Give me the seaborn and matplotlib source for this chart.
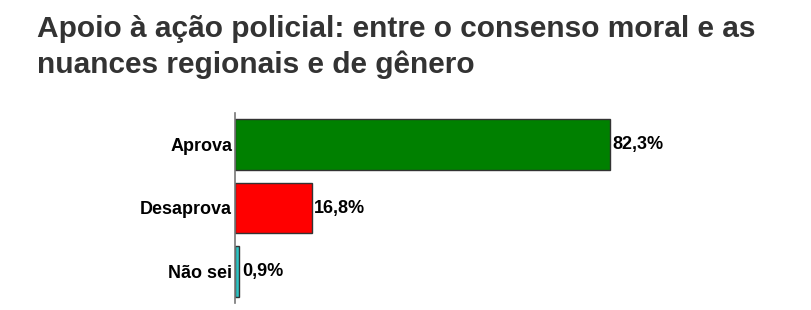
import matplotlib
matplotlib.use("Agg")
import matplotlib.pyplot as plt
import seaborn as sns
import pandas as pd

categories = ["Aprova", "Desaprova", "Não sei"]
values = [82.3, 16.8, 0.9]
value_labels = ["82,3%", "16,8%", "0,9%"]
colors = ["#008000", "#FF0000", "#2EC4C4"]
title = "Apoio à ação policial: entre o consenso moral e as\nnuances regionais e de gênero"

sns.set_theme(style="white")
plt.rcParams["font.family"] = ["Liberation Sans", "DejaVu Sans"]

df = pd.DataFrame({"cat": categories, "val": values})

fig = plt.figure(figsize=(8.11, 3.10), dpi=100)
ax = fig.add_axes([235 / 811, 7 / 310, 0.65, 190 / 310])
sns.barplot(data=df, x="val", y="cat", hue="cat", palette=colors, legend=False,
            orient="h", width=0.8, edgecolor="#333333", linewidth=1, ax=ax, saturation=1)
ax.set_xlim(0, 0.65 * 811 / 4.557)
ax.set_ylim(2.5, -0.5)
ax.set_xlabel("")
ax.set_ylabel("")
ax.set_xticks([])
for s in ["top", "right", "bottom"]:
    ax.spines[s].set_visible(False)
ax.spines["left"].set_color("#777777")
ax.spines["left"].set_linewidth(1.2)
ax.tick_params(axis="y", length=0, pad=2)
for lab in ax.get_yticklabels():
    lab.set_fontweight("bold")
    lab.set_fontsize(13)
    lab.set_color("black")
for i, (v, t) in enumerate(zip(values, value_labels)):
    ax.annotate(t, xy=(v, i), xytext=(2, 0), textcoords="offset points",
                ha="left", va="center", fontsize=13, fontweight="bold", color="black")

fig.text(37 / 811, 1 - 15 / 310, title, ha="left", va="top", fontsize=21.5,
         fontweight="bold", color="#333333", linespacing=1.35)

fig.savefig("out.png", dpi=100)
